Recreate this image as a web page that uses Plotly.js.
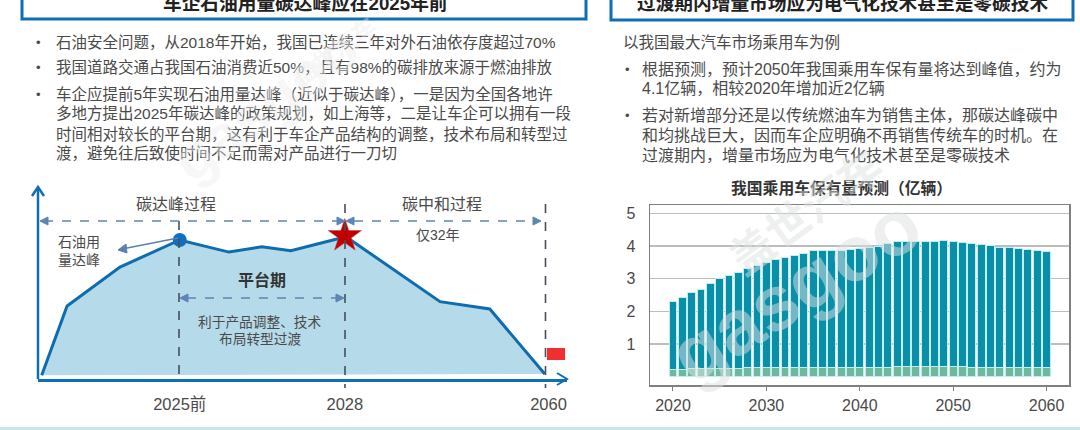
<!DOCTYPE html>
<html><head><meta charset="utf-8">
<script src="https://cdn.plot.ly/plotly-3.0.1.min.js"></script>
<style>html,body{margin:0;padding:0;background:#fff;overflow:hidden}#c{width:1080px;height:430px}</style>
</head><body><div id="c"></div>
<script>
// ---- right chart data (亿辆)
const years = [2020,2021,2022,2023,2024,2025,2026,2027,2028,2029,2030,2031,2032,2033,2034,2035,2036,2037,2038,2039,2040,2041,2042,2043,2044,2045,2046,2047,2048,2049,2050,2051,2052,2053,2054,2055,2056,2057,2058,2059,2060];
const lowerBand = [0.23,0.23,0.24,0.24,0.25,0.25,0.26,0.26,0.27,0.27,0.28,0.28,0.29,0.29,0.29,0.29,0.29,0.29,0.29,0.29,0.29,0.29,0.29,0.29,0.3,0.3,0.3,0.3,0.3,0.3,0.3,0.3,0.29,0.29,0.29,0.29,0.29,0.29,0.29,0.29,0.29];
const upperBand = [2.06,2.19,2.33,2.44,2.61,2.76,2.83,2.94,3.03,3.13,3.22,3.32,3.37,3.43,3.49,3.58,3.58,3.58,3.59,3.61,3.63,3.67,3.7,3.78,3.83,3.83,3.84,3.85,3.85,3.88,3.84,3.82,3.79,3.75,3.72,3.68,3.67,3.64,3.6,3.58,3.55];
const yTicks = [1,2,3,4,5];
const xTicks = [2020,2030,2040,2050,2060];
// ---- left chart data (schematic: position along the timeline, oil use)
const curveX = [0.7,5.5,15.5,26.8,36.1,42.3,47.8,56.5,58,76,85.4,95.8];
const curveY = [2,38,58.3,72.4,66.1,68.9,66.8,72.9,74.5,40.3,36.5,2.6];
const peakX = [26.8], peakY = [72.4];
const starX = [58], starY = [74.5];
const stageTicks = [26.8,58,96.5];
const stageLabels = ['2025前','2028','2060'];
// ---- texts
const leftTitle = '车企石油用量碳达峰应在2025年前';
const rightTitle = '过渡期内增量市场应为电气化技术甚至是零碳技术';
const leftLines = [
 ['•','石油安全问题，从2018年开始，我国已连续三年对外石油依存度超过70%',43],
 ['•','我国道路交通占我国石油消费近50%，且有98%的碳排放来源于燃油排放',68],
 ['•','车企应提前5年实现石油用量达峰（近似于碳达峰），一是因为全国各地许',94],
 ['','多地方提出2025年碳达峰的政策规划，如上海等，二是让车企可以拥有一段',114],
 ['','时间相对较长的平台期，这有利于车企产品结构的调整，技术布局和转型过',134],
 ['','渡，避免往后致使时间不足而需对产品进行一刀切',154]];
const rightLines = [
 ['•','根据预测，预计2050年我国乘用车保有量将达到峰值，约为',69],
 ['','4.1亿辆，相较2020年增加近2亿辆',88],
 ['•','若对新增部分还是以传统燃油车为销售主体，那碳达峰碳中',115],
 ['','和均挑战巨大，因而车企应明确不再销售传统车的时机。在',135],
 ['','过渡期内，增量市场应为电气化技术甚至是零碳技术',155]];

const W=1080,H=430,FF='"Liberation Sans","Noto Sans CJK SC",sans-serif';
const px=x=>x/W, py=y=>1-y/H;
const TXT='#4a4a4a', BLUE='#0F6FB5', DASH='#5B86B5', VD='#44505c';
const ann=[], shp=[];
function T(t,x,y,s,o={}){ann.push({text:t,xref:'paper',yref:'paper',x:px(x),y:py(y),xanchor:o.a||'center',yanchor:'middle',align:o.al||'center',showarrow:false,textangle:o.rot||0,font:{family:FF,size:s,color:o.c||TXT}});}
function R(x0,y0,x1,y1,fill,line,w){shp.push({type:'rect',xref:'paper',yref:'paper',x0:px(x0),x1:px(x1),y0:py(y0),y1:py(y1),fillcolor:fill,line:{color:line||fill,width:w||0}});}
function L(x0,y0,x1,y1,c,w,d){shp.push({type:'line',xref:'paper',yref:'paper',x0:px(x0),x1:px(x1),y0:py(y0),y1:py(y1),line:{color:c,width:w,dash:d||'solid'}});}
function P(pts,fill,line,w){const d=pts.map((p,i)=>(i?'L':'M')+px(p[0])+','+py(p[1])).join(' ')+(fill?' Z':'');shp.push({type:'path',xref:'paper',yref:'paper',path:d,fillcolor:fill||'rgba(0,0,0,0)',line:{color:line||fill,width:w||0}});}
function triR(x,y){P([[x-8,y-4],[x,y],[x-8,y+4]],DASH,DASH,1);}
function triL(x,y){P([[x+8,y-4],[x,y],[x+8,y+4]],DASH,DASH,1);}

// page strip & title boxes
R(0,427,1080,431,'#C8E8EA');
R(22,-6,586,19,'#fff',BLUE,3);
R(611,-6,1073,20,'#fff',BLUE,3);
T('<b>'+leftTitle+'</b>',305,3,18.7,{c:'#222'});
T('<b>'+rightTitle+'</b>',842,3,18.7,{c:'#222'});
// body text
leftLines.forEach(l=>{if(l[0])T(l[0],38,l[2],13,{});T(l[1],54,l[2],15.5,{a:'left',al:'left'});});
T('以我国最大汽车市场乘用车为例',621,43,15.5,{a:'left',al:'left'});
rightLines.forEach(l=>{if(l[0])T(l[0],627,l[2],13,{});T(l[1],640,l[2],16,{a:'left',al:'left'});});
// left schematic furniture
L(38,379,38,189,BLUE,2.5);
P([[32,196],[38,187],[44,196]],null,BLUE,2.5);
P([[557,373],[567,379],[557,385]],null,BLUE,2);
L(179,221,179,381,VD,1.6,'dash');
L(345,204,345,388,VD,1.6,'dash');
L(545.5,204,545.5,388,VD,1.6,'dash');
L(44,221,337,221,DASH,1.6,'dash');triL(40,221);triR(345,221);
L(354,221,535,221,DASH,1.6,'dash');triL(346,221);triR(541,221);
L(187,298,336,298,DASH,1.6,'dash');triL(180,298);triR(344,298);
L(178,238,122,249,'#5B7FB0',1.3);P([[126,244],[118,250],[127,253]],'#5B7FB0','#5B7FB0',1);
R(547,348,565,360,'#F03030');
T('碳达峰过程',176,204,16);
T('碳中和过程',442,204,16);
T('仅32年',438,235,14);
T('石油用',79,242,14);T('量达峰',79,260,14);
T('<b>平台期</b>',262,280,16,{c:'#333'});
T('利于产品调整、技术',260,322,13.7);
T('布局转型过渡',260,339,13.7);
// right chart title
T('<b>我国乘用车保有量预测（亿辆）</b>',841,188,15.8,{c:'#333'});
// watermark
const WM='rgba(222,226,226,0.5)';
T('<b>gasgoo</b>',795,290,78,{rot:-32,c:WM});
T('<b>盖世汽车</b>',806,212,44,{rot:-36,c:WM});
T('<b>gasgoo</b>',265,105,60,{rot:-36,c:'rgba(235,235,235,0.42)'});
T('<b>盖世汽车</b>',335,52,24,{rot:-36,c:'rgba(235,235,235,0.42)'});

const traces=[
 {type:'scatter',mode:'lines',x:curveX,y:curveY,fill:'toself',fillcolor:'#B5DAE9',line:{color:'#0F6CAE',width:3},xaxis:'x',yaxis:'y',hoverinfo:'skip'},
 {type:'scatter',mode:'markers',x:peakX,y:peakY,marker:{color:'#0F6FBF',size:14},xaxis:'x',yaxis:'y',hoverinfo:'skip'},
 {type:'scatter',mode:'markers',x:starX,y:starY,marker:{symbol:'star',color:'#C00000',size:25,line:{color:'#d83030',width:0.5}},xaxis:'x',yaxis:'y',hoverinfo:'skip'},
 {type:'bar',x:years,y:lowerBand,width:0.84,marker:{color:'#6FB89A',line:{color:'#BDEFF3',width:1}},xaxis:'x2',yaxis:'y2',hoverinfo:'skip'},
 {type:'bar',x:years,y:upperBand,width:0.84,marker:{color:'#0A8FA8',line:{color:'#BDEFF3',width:1}},xaxis:'x2',yaxis:'y2',hoverinfo:'skip'}
];
const layout={width:W,height:H,margin:{l:0,r:0,t:0,b:0},paper_bgcolor:'#fff',plot_bgcolor:'rgba(0,0,0,0)',showlegend:false,barmode:'stack',
 font:{family:FF,color:TXT},
 xaxis:{domain:[px(38),px(567)],range:[0,100],showgrid:false,zeroline:false,showline:true,linecolor:BLUE,linewidth:2.5,tickmode:'array',tickvals:stageTicks,ticktext:stageLabels,ticks:'',ticklabelstandoff:9,tickfont:{size:16.5,color:TXT,family:FF}},
 yaxis:{domain:[py(379),py(187)],range:[0,100],showgrid:false,zeroline:false,showline:false,showticklabels:false,ticks:''},
 xaxis2:{domain:[px(650),px(1069)],range:[2017.54,2062.4],anchor:'y2',showgrid:false,zeroline:false,showline:true,mirror:true,linecolor:'#808080',linewidth:1.5,tickmode:'array',tickvals:xTicks,ticks:'outside',ticklen:4,tickcolor:'#808080',ticklabelstandoff:1,tickfont:{size:16,color:TXT,family:FF}},
 yaxis2:{domain:[py(385),py(205)],range:[-0.26,5.26],anchor:'x2',showgrid:true,gridcolor:'#bdbdbd',gridwidth:1.2,zeroline:false,showline:true,mirror:true,linecolor:'#808080',linewidth:1.5,tickmode:'array',tickvals:yTicks,ticks:'outside',ticklen:10,tickcolor:'rgba(0,0,0,0)',tickfont:{size:16,color:TXT,family:FF}},
 shapes:shp,annotations:ann};
Plotly.newPlot('c',traces,layout,{displayModeBar:false,staticPlot:true});
</script></body></html>
